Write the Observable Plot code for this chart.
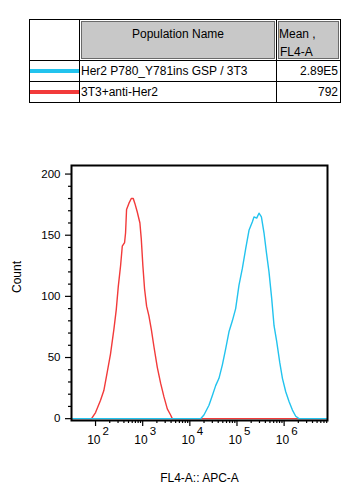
<!DOCTYPE html>
<html>
<head>
<meta charset="utf-8">
<script src="https://cdn.jsdelivr.net/npm/d3@7"></script>
<script src="https://cdn.jsdelivr.net/npm/@observablehq/plot@0.6"></script>
<style>
  html, body { margin: 0; padding: 0; background: #fff; }
  body { width: 360px; height: 500px; overflow: hidden; font-family: "Liberation Sans", Arial, sans-serif; color: #000; }
  #legend { position: relative; width: 360px; height: 130px; }
  #legend div { position: absolute; box-sizing: border-box; }
  .t { font-size: 12px; line-height: 14px; white-space: nowrap; }
  #chart svg { display: block; font-family: "Liberation Sans", Arial, sans-serif; }
</style>
</head>
<body>
<div id="legend"></div>
<div id="chart"></div>
<script>
// ---- data ----
const populations = ["Her2 P780_Y781ins GSP / 3T3", "3T3+anti-Her2"];
const means = ["2.89E5", "792"];
const colors = ["#22c3ee", "#f23a3a"];
const headers = ["Population Name", "Mean ,", "FL4-A"];

// log10(FL4-A) positions and counts of the red histogram (3T3+anti-Her2)
const redLog = [1.49, 1.915, 2.0, 2.106, 2.176, 2.248, 2.318, 2.389, 2.439, 2.482, 2.531, 2.567, 2.616, 2.637, 2.658, 2.707, 2.758, 2.800, 2.834, 2.885, 2.941, 2.970, 3.004, 3.040, 3.083, 3.132, 3.183, 3.238, 3.310, 3.380, 3.450, 3.522, 3.592, 3.628, 6.92];
const redCount = [0, 0, 5, 15, 23, 38, 53, 73, 89, 108, 125, 141, 144, 152, 171, 176, 180, 180, 176, 169, 160, 147, 125, 106, 92, 84, 73, 59, 42, 29, 18, 8, 3, 0, 0];

// log10(FL4-A) positions and counts of the blue histogram (Her2 P780_Y781ins GSP / 3T3)
const blueLog = [1.49, 4.229, 4.299, 4.406, 4.478, 4.548, 4.618, 4.690, 4.760, 4.830, 4.902, 4.972, 5.042, 5.115, 5.185, 5.255, 5.327, 5.361, 5.418, 5.467, 5.518, 5.573, 5.624, 5.679, 5.737, 5.786, 5.843, 5.907, 5.964, 6.034, 6.104, 6.176, 6.246, 6.316, 6.92];
const blueCount = [0, 0, 3, 11, 19, 27, 33, 44, 57, 71, 80, 90, 109, 123, 139, 154, 161, 165, 164, 168, 165, 152, 136, 120, 98, 76, 63, 46, 33, 22, 14, 7, 2, 0, 0];

const yMajor = [0, 50, 100, 150, 200];
const yMinor = [10, 20, 30, 40, 60, 70, 80, 90, 110, 120, 130, 140, 160, 170, 180, 190];
const xDecades = [2, 3, 4, 5, 6];
const xMinor = [200, 300, 400, 500, 600, 700, 800, 900,
  2e3, 3e3, 4e3, 5e3, 6e3, 7e3, 8e3, 9e3,
  2e4, 3e4, 4e4, 5e4, 6e4, 7e4, 8e4, 9e4,
  2e5, 3e5, 4e5, 5e5, 6e5, 7e5, 8e5, 9e5,
  2e6, 3e6, 4e6, 5e6, 6e6, 7e6, 8e6];
const xLabel = "FL4-A:: APC-A";
const yLabel = "Count";

// ---- legend table ----
const L = document.getElementById("legend");
function box(css, text, cls) {
  const d = document.createElement("div");
  Object.assign(d.style, css);
  if (text != null) { d.textContent = text; d.className = cls || "t"; }
  L.appendChild(d);
  return d;
}
// outer border and grid lines
box({left: "29px", top: "19px", width: "312px", height: "84px", border: "1px solid #000"});
box({left: "79px", top: "19px", width: "1px", height: "84px", background: "#000"});
box({left: "276px", top: "19px", width: "1px", height: "84px", background: "#000"});
box({left: "29px", top: "60px", width: "312px", height: "1px", background: "#000"});
box({left: "29px", top: "81px", width: "312px", height: "1px", background: "#000"});
// header cells
box({left: "81px", top: "21px", width: "194px", height: "38px", background: "#c8c8c8", border: "1px solid #6a6a6a"});
box({left: "278px", top: "21px", width: "61px", height: "38px", background: "#c8c8c8", border: "1px solid #6a6a6a"});
box({left: "81px", top: "27px", width: "194px", textAlign: "center"}, headers[0]);
box({left: "279px", top: "27px"}, headers[1]);
box({left: "280px", top: "45px"}, headers[2]);
// rows
const rowMid = [71, 91.5];
populations.forEach((p, i) => {
  box({left: "30px", top: (rowMid[i] - 2) + "px", width: "49px", height: "4px", background: colors[i]});
  box({left: "81px", top: (rowMid[i] - 7) + "px"}, p);
  box({left: "278px", width: "60px", top: (rowMid[i] - 7) + "px", textAlign: "right"}, means[i]);
});

// ---- histogram ----
const red = redLog.map((l, i) => ({x: 10 ** l, y: redCount[i]}));
const blue = blueLog.map((l, i) => ({x: 10 ** l, y: blueCount[i]}));
const xMajor = xDecades.map(d => 10 ** d);

const chart = Plot.plot({
  width: 360,
  height: 370,
  marginTop: 35,
  marginBottom: 80,
  marginLeft: 71,
  marginRight: 33,
  style: {color: "#000", background: "#fff", fontFamily: "Liberation Sans, Arial, sans-serif"},
  x: {type: "log", domain: [10 ** 1.49, 10 ** 6.92], label: null},
  y: {domain: [-1.5, 207], label: null},
  marks: [
    Plot.line(red, {x: "x", y: "y", stroke: colors[1], strokeWidth: 1.4, clip: true}),
    Plot.line(blue, {x: "x", y: "y", stroke: colors[0], strokeWidth: 1.4, clip: true}),
    Plot.frame({stroke: "#000", strokeWidth: 2}),
    Plot.axisY(yMajor, {tickSize: 6, tickPadding: 5, fontSize: 11.5, strokeWidth: 1.2, label: null}),
    Plot.axisY(yMinor, {tickSize: 3, tickFormat: () => "", strokeWidth: 1.2, label: null}),
    Plot.axisX(xMajor, {tickSize: 6, tickFormat: () => "", strokeWidth: 1.2, label: null}),
    Plot.axisX(xMinor, {tickSize: 3, tickFormat: () => "", strokeWidth: 1.2, label: null}),
    Plot.text(xMajor, {x: d => d, text: () => "10", frameAnchor: "bottom", dy: 23, dx: 5, textAnchor: "end", fontSize: 12}),
    Plot.text(xDecades, {x: d => 10 ** d, text: d => String(d), frameAnchor: "bottom", dy: 14, dx: 7, textAnchor: "start", fontSize: 11.5}),
    Plot.text([yLabel], {text: d => d, frameAnchor: "left", dx: -54, rotate: -90, fontSize: 12}),
    Plot.text([xLabel], {text: d => d, frameAnchor: "bottom", dy: 61, fontSize: 12})
  ]
});
document.getElementById("chart").appendChild(chart);
</script>
</body>
</html>
